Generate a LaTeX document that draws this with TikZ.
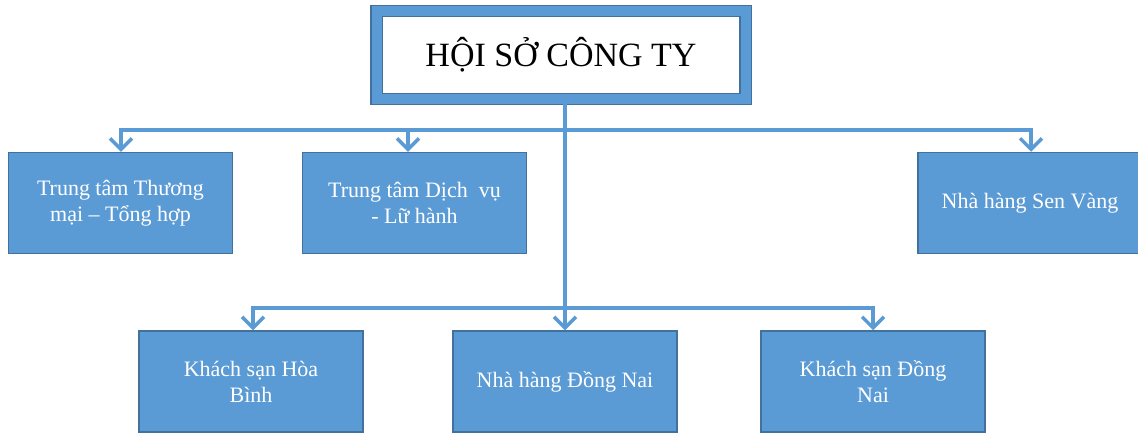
\documentclass[tikz,border=0pt]{standalone}
\usepackage{fontspec}
\setmainfont{Liberation Serif}
\usetikzlibrary{arrows.meta}
\definecolor{boxblue}{HTML}{5B9BD5}
\definecolor{boxline}{HTML}{41719C}
\begin{document}
\begin{tikzpicture}[x=1pt, y=-1pt,
        head/.style={rectangle, draw=boxline, line width=1.2pt, double=boxblue, double distance=10pt, fill=white, minimum width=369, minimum height=88, font=\fontsize{34}{40}\selectfont},
        unit/.style={rectangle, draw=boxline, line width=1.5pt, fill=boxblue, text=white, align=center, minimum width=224, minimum height=101, font=\fontsize{22}{26}\selectfont},
        link/.style={draw=boxblue, line width=3.5pt, line cap=rect},
        flow/.style={draw=boxblue, line width=3.5pt, -{Straight Barb[length=11pt, width=22pt]}}
    ]
        \clip (0,0) rectangle (1138,432);

        % Head office
        \node[head] (top_office) at (561,55) {HỘI SỞ CÔNG TY};

        % First row of units
        \node[unit] (centre_tm) at (120.5,203) {Trung tâm Thương\\mại – Tổng hợp};
        \node[unit] (centre_dv) at (414.5,203) {Trung tâm Dịch\ \ vụ\\- Lữ hành};
        \node[unit] (rest_sv) at (1030,203) {Nhà hàng Sen Vàng};

        % Second row of units
        \node[unit] (hotel_hb) at (251,381.5) {Khách sạn Hòa\\Bình};
        \node[unit] (rest_dn) at (565,381.5) {Nhà hàng Đồng Nai};
        \node[unit] (hotel_dn) at (873,381.5) {Khách sạn Đồng\\Nai};

        % Bus lines
        \coordinate (bus1_left) at (121,130);
        \coordinate (bus1_mid) at (408,130);
        \coordinate (bus1_right) at (1031,130);
        \coordinate (bus2_left) at (253,308);
        \coordinate (bus2_right) at (873,308);
        \draw[link] (bus1_left) -- (bus1_right);
        \draw[link] (bus2_left) -- (bus2_right);

        % Trunk from head office
        \draw[flow] (top_office.south -| rest_dn.north) -- (rest_dn.north);

        % Arrows down to units
        \draw[flow] (bus1_left) -- (bus1_left |- centre_tm.north);
        \draw[flow] (bus1_mid) -- (bus1_mid |- centre_dv.north);
        \draw[flow] (bus1_right) -- (bus1_right |- rest_sv.north);
        \draw[flow] (bus2_left) -- (bus2_left |- hotel_hb.north);
        \draw[flow] (bus2_right) -- (bus2_right |- hotel_dn.north);

    \end{tikzpicture}
\end{document}
